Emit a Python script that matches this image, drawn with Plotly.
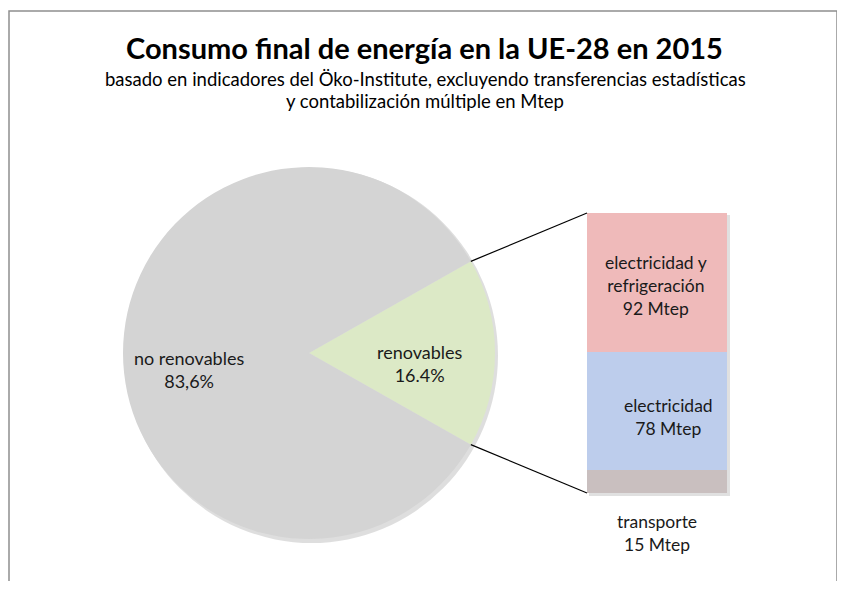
import math
import plotly.graph_objects as go

# ---- data ----
pie_labels = ["renovables", "no renovables"]
pie_values = [16.4, 83.6]
pie_texts = ["renovables<br>16.4%", "no renovables<br>83,6%"]

bar_labels = ["transporte", "electricidad", "electricidad y refrigeración"]
bar_values = [15, 78, 92]
bar_texts = ["transporte<br>15 Mtep", "electricidad<br>78 Mtep",
             "electricidad y<br>refrigeración<br>92 Mtep"]

title = "Consumo final de energía en la UE-28 en 2015"
subtitle1 = "basado en indicadores del Öko-Institute, excluyendo transferencias estadísticas"
subtitle2 = "y contabilización múltiple en Mtep"

# ---- layout geometry (pixels of the 845x589 window) ----
WIN_W, WIN_H = 845, 589
OFF = 8  # default page body margin
W, H = WIN_W - 2 * OFF, WIN_H - 2 * OFF
cx, cy, r = 309, 353, 186
bar_x0, bar_x1 = 587, 727
bar_top, bar_bot = 213, 493

def px(x):
    return (x - OFF) / W

def py(y):
    return 1 - (y - OFF) / H

FONT = "Lato, 'Open Sans', sans-serif"
TXT = "#1a1a1a"
pie_colors = ["#DCE9C6", "#D4D4D4"]
bar_colors = ["#C9BFBF", "#BDCDEC", "#EFBABA"]

frac = pie_values[0] / sum(pie_values)
half = math.pi * frac

fig = go.Figure()

fig.add_trace(go.Pie(
    labels=pie_labels, values=pie_values, sort=False,
    direction="clockwise", rotation=90 - 180 * frac,
    marker=dict(colors=pie_colors, line=dict(width=0)),
    textinfo="none", hoverinfo="label+percent",
    domain=dict(x=[px(cx - r), px(cx + r)], y=[py(cy + r), py(cy - r)]),
    showlegend=False,
))

total = sum(bar_values)
for lab, val, col in zip(bar_labels, bar_values, bar_colors):
    fig.add_trace(go.Bar(
        x=["renovables"], y=[val], name=lab, width=1,
        marker=dict(color=col, line=dict(width=0)),
        showlegend=False, xaxis="x", yaxis="y",
    ))

shapes = []
shapes.append(dict(type="rect", xref="paper", yref="paper",
                   x0=px(9), x1=px(837), y0=-0.1, y1=py(11),
                   line=dict(color="#8E8E8E", width=1.5), layer="below"))
shapes.append(dict(type="circle", xref="paper", yref="paper",
                   x0=px(cx - r + 2), x1=px(cx + r + 3), y0=py(cy + r + 4), y1=py(cy - r + 1),
                   fillcolor="rgba(0,0,0,0.13)", line=dict(width=0), layer="below"))
shapes.append(dict(type="rect", xref="paper", yref="paper",
                   x0=px(bar_x0 + 2), x1=px(bar_x1 + 3), y0=py(bar_bot + 3), y1=py(bar_top + 2),
                   fillcolor="rgba(0,0,0,0.12)", line=dict(width=0), layer="below"))
ux, uy = cx + r * math.cos(half), cy - r * math.sin(half)
lx, ly = cx + r * math.cos(half), cy + r * math.sin(half)
shapes.append(dict(type="line", xref="paper", yref="paper",
                   x0=px(ux), y0=py(uy), x1=px(bar_x0), y1=py(bar_top),
                   line=dict(color="black", width=1.2)))
shapes.append(dict(type="line", xref="paper", yref="paper",
                   x0=px(lx), y0=py(ly), x1=px(bar_x0), y1=py(bar_bot),
                   line=dict(color="black", width=1.2)))

def ann(text, x, y, size, bold=False, **kw):
    d = dict(text=("<b>%s</b>" % text) if bold else text, x=x, y=y,
             showarrow=False, xanchor="center", yanchor="middle",
             font=dict(size=size, color=kw.pop("color", TXT), family=FONT))
    d.update(kw)
    return d

annotations = [
    ann(title, px(424), py(47), 29, bold=True, xref="paper", yref="paper", color="black"),
    ann(subtitle1, px(425), py(79), 18.5, xref="paper", yref="paper", color="black"),
    ann(subtitle2, px(425), py(101), 18.5, xref="paper", yref="paper", color="black"),
    ann(pie_texts[1], px(189), py(369), 18, xref="paper", yref="paper"),
    ann(pie_texts[0], px(420), py(363), 18, xref="paper", yref="paper"),
]

cum = 0
mids = []
for v in bar_values:
    mids.append(cum + v / 2)
    cum += v
annotations.append(ann(bar_texts[2], "renovables", mids[2], 17.5, xref="x", yref="y",
                       xshift=-1, yshift=-3))
annotations.append(ann(bar_texts[1], "renovables", mids[1], 17.5, xref="x", yref="y",
                       xshift=11, yshift=-6))
annotations.append(ann(bar_texts[0], "renovables", 0, 17.5, xref="x", yref="y",
                       xshift=0, yshift=-40))

fig.update_layout(
    width=W, height=H, margin=dict(l=0, r=0, t=0, b=0),
    paper_bgcolor="white", plot_bgcolor="rgba(0,0,0,0)",
    barmode="stack", bargap=0,
    xaxis=dict(domain=[px(bar_x0), px(bar_x1)], range=[-0.5, 0.5], visible=False, fixedrange=True),
    yaxis=dict(domain=[py(bar_bot), py(bar_top)], range=[0, total], visible=False, fixedrange=True),
    shapes=shapes, annotations=annotations,
)

fig.write_html("out.html")
